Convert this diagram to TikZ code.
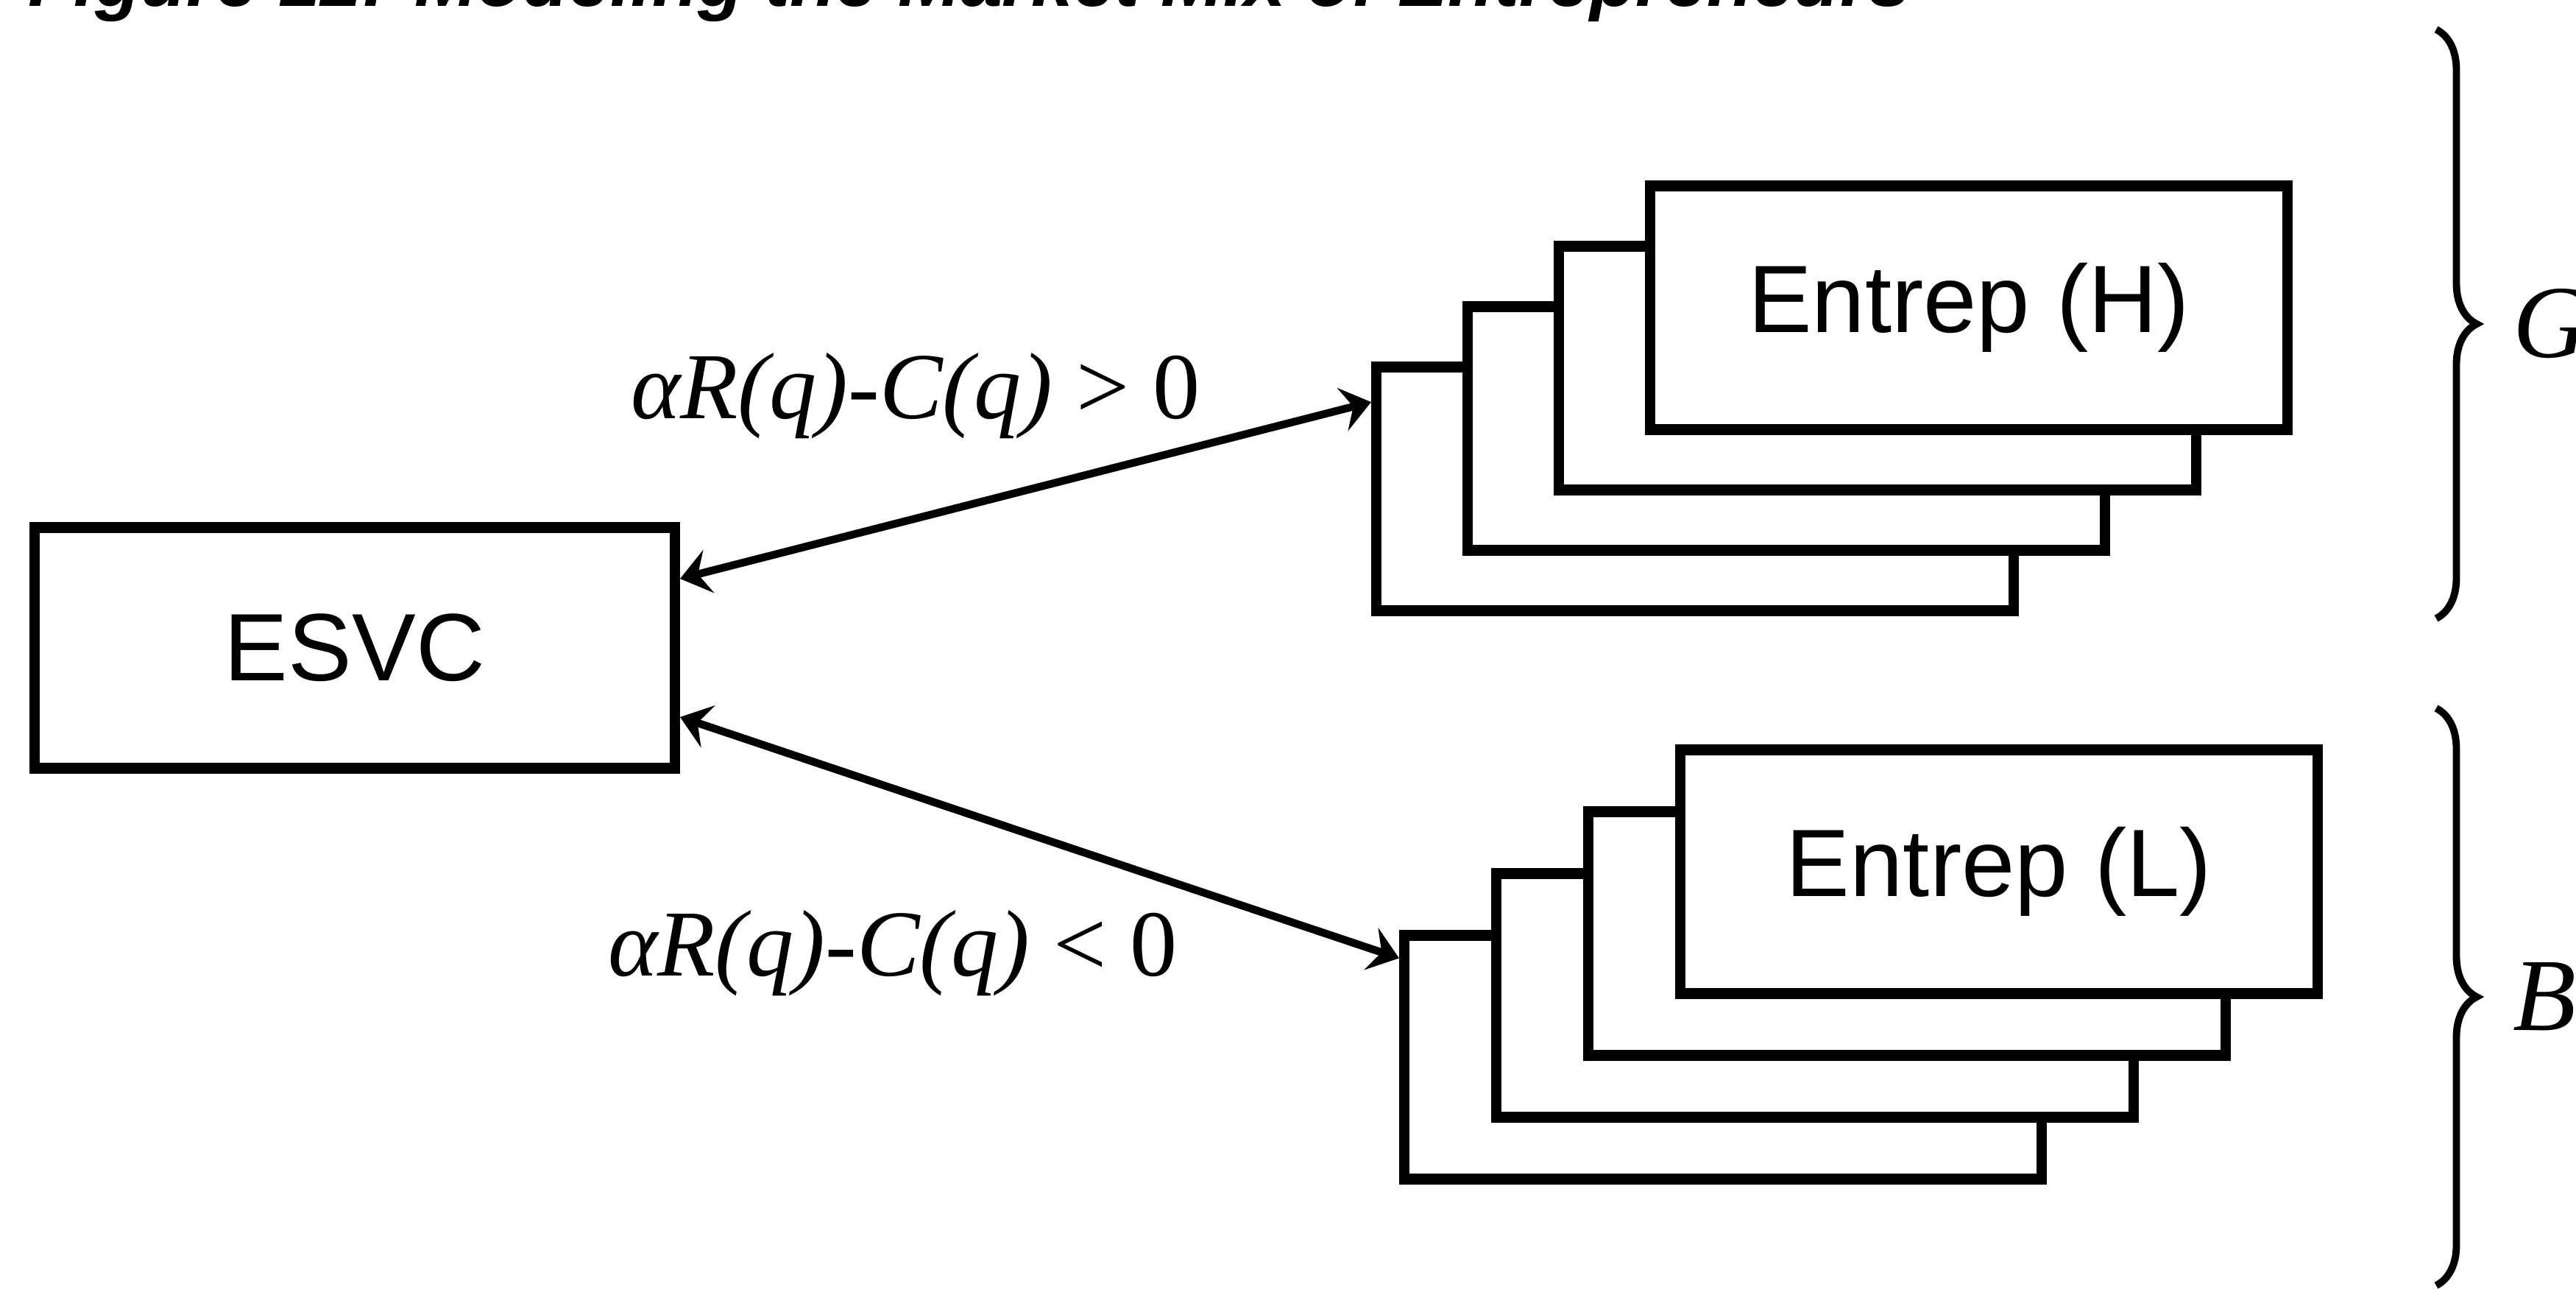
\documentclass[tikz,border=0pt]{standalone}
\usepackage{fontspec}
\setmainfont{Liberation Serif}
\setsansfont{Liberation Sans}
\usetikzlibrary{arrows.meta, positioning, calc, decorations.pathreplacing}

\begin{document}
\begin{tikzpicture}[
    font=\sffamily, >=Stealth,
    esvcbox/.style={rectangle, draw=black, line width=4pt, fill=white, minimum width=8.70cm, minimum height=3.27cm, font=\sffamily\fontsize{37}{40}\selectfont},
    entbox/.style ={rectangle, draw=black, line width=4pt, fill=white, minimum width=8.66cm, minimum height=3.31cm, font=\sffamily\fontsize{37}{40}\selectfont},
    link/.style   ={{Stealth[length=4mm,width=6mm,inset=1.5mm]}-{Stealth[length=4mm,width=6mm,inset=1.5mm]}, line width=3pt},
    cond/.style   ={font=\rmfamily\fontsize{36.5}{40}\selectfont, inner sep=0pt},
    grp/.style    ={decorate, decoration={brace, amplitude=5.5mm}, line width=2.8pt},
    grplbl/.style ={font=\rmfamily\itshape\fontsize{40}{44}\selectfont, anchor=west, inner sep=0pt, xshift=1cm},
]
\useasboundingbox (0,0) rectangle (35,-17.63);
\node[font=\sffamily\bfseries\itshape\fontsize{29}{32}\selectfont, anchor=base west, inner sep=0pt] (title) at (0.38,-0.08) {Figure 12: Modeling the Market Mix of Entrepreneurs};

\node[esvcbox] (esvc) at (4.82,-8.80) {ESVC};

\coordinate (hpos) at (26.75,-4.18);
\coordinate (lpos) at (27.16,-11.84);
\foreach \i in {3,2,1}{
  \node[entbox] (h\i) at ($(hpos)+(-1.24*\i,-0.82*\i)$) {};
  \node[entbox] (l\i) at ($(lpos)+(-1.25*\i,-0.84*\i)$) {};
}
\node[entbox] (h0) at (hpos) {Entrep (H)};
\node[entbox] (l0) at (lpos) {Entrep (L)};

\draw[link] (esvc.12) -- (h3.165);
\draw[link] (esvc.348) -- (l3.163);
\node[cond] (condhi) at (12.44,-5.38) {{\itshape αR(q)-C(q)} > 0};
\node[cond] (condlo) at (12.13,-12.95) {{\itshape αR(q)-C(q)} < 0};

\coordinate (gtop) at (33.10,-0.40);
\coordinate (gbot) at (33.10,-8.40);
\coordinate (btop) at (33.10,-9.62);
\coordinate (bbot) at (33.10,-17.46);
\draw[grp] (gtop) -- (gbot) node[midway, grplbl] (glbl) {G};
\draw[grp] (btop) -- (bbot) node[midway, grplbl] (blbl) {B};
\end{tikzpicture}
\end{document}
